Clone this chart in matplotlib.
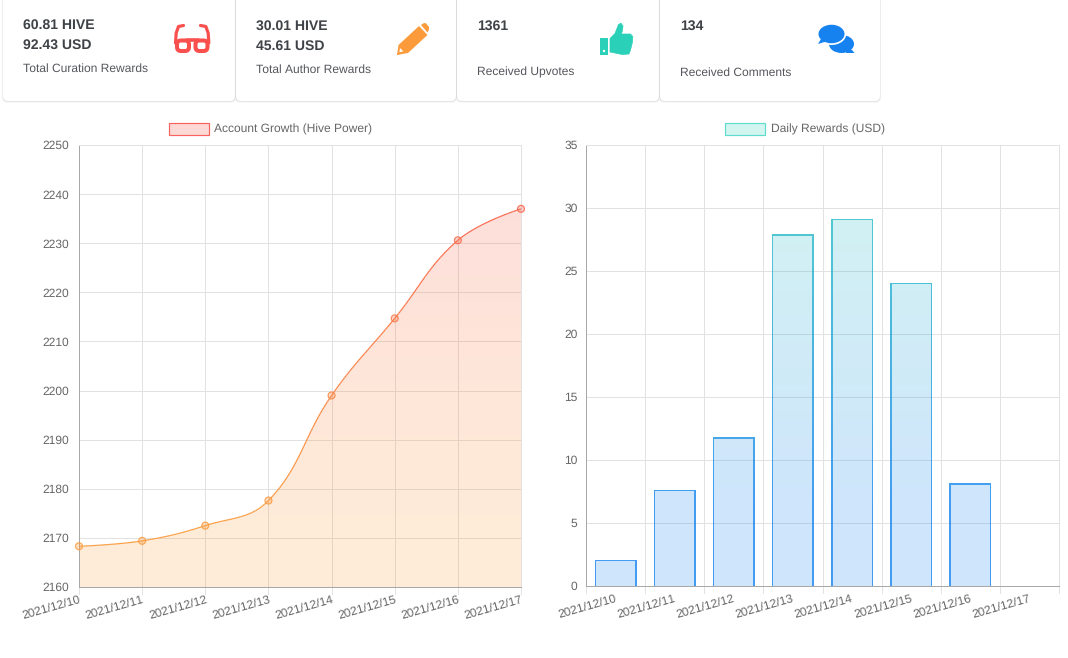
import numpy as np
import matplotlib
matplotlib.use('Agg')
import matplotlib.pyplot as plt
from matplotlib.path import Path
from matplotlib.patches import PathPatch, FancyBboxPatch, Rectangle, Circle, Ellipse, Polygon
from matplotlib.collections import LineCollection
from matplotlib.colors import LinearSegmentedColormap, to_rgb

dates = ['2021/12/10', '2021/12/11', '2021/12/12', '2021/12/13',
         '2021/12/14', '2021/12/15', '2021/12/16', '2021/12/17']
hive_power = [2168.3, 2169.4, 2172.5, 2177.6, 2199.0, 2214.7, 2230.6, 2237.0]
daily_rewards = [2.1, 7.65, 11.8, 27.9, 29.15, 24.05, 8.15, 0.0]
power_ticks = list(range(2160, 2251, 10))
reward_ticks = list(range(0, 36, 5))

plt.rcParams['font.family'] = ['Liberation Sans', 'DejaVu Sans']
plt.rcParams['text.hinting'] = 'no_hinting'
plt.rcParams['text.hinting_factor'] = 1
W, H = 1068, 658
fig = plt.figure(figsize=(W / 100, H / 100), dpi=100, facecolor='white')


def ax_px(x0, y0, x1, y1, **kw):
    return fig.add_axes([x0 / W, 1 - y1 / H, (x1 - x0) / W, (y1 - y0) / H], **kw)


bg = ax_px(0, 0, W, H)
bg.set_xlim(0, W)
bg.set_ylim(H, 0)
bg.axis('off')

TXT = '#3f4246'
SUB = '#55575c'
cards = [
    (3, 235, ['60.81 HIVE', '92.43 USD'], 'Total Curation Rewards', 23, (25, 45), 68.5),
    (236, 456, ['30.01 HIVE', '45.61 USD'], 'Total Author Rewards', 256, (26, 46), 69.5),
    (457, 659, ['1361'], 'Received Upvotes', 477, (26,), 72.5),
    (660, 880, ['134'], 'Received Comments', 680, (26,), 72.5),
]
for x0, x1, lines, sub, tx, ys, sy in cards:
    for k, a in ((2.0, 0.02), (1.2, 0.04), (0.6, 0.07)):
        bg.add_patch(FancyBboxPatch((x0 + 5 - k * 0.6, -20), x1 - x0 - 10 + 1.2 * k, 116 + k,
                                    boxstyle='round,pad=5', fc='black', ec='none', alpha=a))
    bg.add_patch(FancyBboxPatch((x0 + 5, -20), x1 - x0 - 10, 116,
                                boxstyle='round,pad=5', fc='white', ec='none'))
    for t, y in zip(lines, ys):
        bg.text(tx, y, t, fontsize=10.1, fontweight='bold', color=TXT, va='center', ha='left')
    bg.text(tx, sy, sub, fontsize=8.7, color=SUB, va='center', ha='left')

# glasses icon
RED = '#f9504e'
for cx in (183, 201.5):
    bg.add_patch(FancyBboxPatch((cx - 4.5, 42), 9, 7.5, boxstyle='round,pad=1.5,rounding_size=4',
                                fc='white', ec=RED, lw=2.9))
bg.plot([186, 199], [40.2, 40.2], color=RED, lw=2.6, solid_capstyle='butt')
bg.plot([175.5, 176.2, 178.5, 183.5], [43, 33, 26.5, 25.5], color=RED, lw=2.3, solid_capstyle='round')
bg.plot([208.8, 208.2, 205.8, 200.5], [43, 33, 26.5, 25.5], color=RED, lw=2.3, solid_capstyle='round')

# pencil icon
ORG = '#fb9b3c'
bg.add_patch(Polygon([(397, 55), (398.5, 45), (419, 26), (427.5, 35), (408, 53)], fc=ORG, ec='none'))
bg.add_patch(Polygon([(421, 25), (424, 23), (426, 23.3), (429, 27), (429, 29.5), (427.5, 32.5)],
                     fc=ORG, ec='none'))
bg.add_patch(Polygon([(400, 48), (403.5, 51.5), (399.4, 52.2)], fc='white', ec='none'))
bg.add_patch(Polygon([(397.4, 52.6), (399.4, 54.6), (397, 55)], fc=ORG, ec='none'))

# thumb icon
TEAL = '#2bd0b8'
bg.add_patch(Rectangle((600, 37.5), 7.5, 17, fc=TEAL, ec='none'))
bg.add_patch(Circle((604, 51), 1.2, fc='white', ec='none'))
bg.add_patch(Polygon([(610, 38.5), (615, 33.5), (618.5, 24.5), (621, 23.2), (623, 26), (622.5, 30), (621.5, 34),
                      (630.5, 34), (632.8, 36.5), (632.5, 42), (630.5, 50), (629, 54), (622, 54.5),
                      (615, 53), (610, 52)],
                     fc=TEAL, ec=TEAL, lw=0.5, joinstyle='round'))

# comments icon
BLUE = '#1582f0'
bg.add_patch(Ellipse((841.5, 44), 25, 18, fc=BLUE, ec='none'))
bg.add_patch(Polygon([(847, 49), (852, 50), (854.5, 53), (846, 53)], fc=BLUE, ec='none'))
bg.add_patch(Ellipse((831.5, 34), 29.5, 22, fc='white', ec='none'))
bg.add_patch(Ellipse((831.5, 34), 26, 18.5, fc=BLUE, ec='none'))
bg.add_patch(Polygon([(821, 39), (826, 41.5), (818, 44)], fc=BLUE, ec='none'))

# legends
bg.add_patch(Rectangle((168.5, 122.5), 40, 12, fc='#fdd9d6', ec='#f9635d', lw=0.85))
bg.text(214.5, 129.5, 'Account Growth (Hive Power)', fontsize=8.7, color='#666666', va='center')
bg.add_patch(Rectangle((724.5, 122.5), 40, 12, fc='#d3f5f0', ec='#5fdccb', lw=0.85))
bg.text(771, 129.5, 'Daily Rewards (USD)', fontsize=8.7, color='#666666', va='center')

GRID = '#e2e2e2'
GLW = 0.72


def style(ax, yticks, pad):
    ax.set_yticks(yticks)
    ax.tick_params(axis='y', length=0, pad=pad, labelsize=8.8, labelcolor='#666666')
    ax.tick_params(axis='x', length=0)
    ax.grid(True, color=GRID, lw=GLW, zorder=0)
    ax.set_axisbelow(True)
    for s in ('top', 'right'):
        ax.spines[s].set_color(GRID)
        ax.spines[s].set_linewidth(GLW)
    for s in ('left', 'bottom'):
        ax.spines[s].set_color('#a8a8a8')
        ax.spines[s].set_linewidth(GLW)
    ax.patch.set_alpha(0)


def xlabels(ax, ticks, anchors, dx):
    ax.set_xticks(ticks)
    ax.set_xticklabels([])
    trans = ax.get_xaxis_transform()
    for x in ticks:
        ax.plot([x, x], [0, -7 / 441], transform=trans, color=GRID, lw=GLW, clip_on=False)
    for x, d in zip(anchors, dates):
        ax.annotate(d, xy=(x, 0), xycoords=trans, xytext=(dx, -7), textcoords='offset pixels',
                    rotation=16, rotation_mode='anchor', ha='right', va='top',
                    fontsize=8.8, color='#666666')


def gradient(ax, c_top, c_bottom, clip, alpha, zorder):
    y0, y1 = ax.get_ylim()
    x0, x1 = ax.get_xlim()
    n = 442
    ypx = np.linspace(587, 145, n)
    t = np.clip((ypx - 115) / 400, 0, 1)[:, None]
    rgb = (1 - t) * np.array(to_rgb(c_top)) + t * np.array(to_rgb(c_bottom))
    rgba = np.dstack([rgb[:, None, :], np.full((n, 1), alpha)])
    rgba = np.repeat(rgba, 2, axis=1)
    im = ax.imshow(rgba, origin='lower', aspect='auto', extent=(x0, x1, y0, y1),
                   zorder=zorder, interpolation='nearest')
    im.set_clip_path(clip)
    ax.set_xlim(x0, x1)
    ax.set_ylim(y0, y1)
    return im


# left chart
ax1 = ax_px(79, 145, 521, 587)
ax1.set_xlim(0, 7)
ax1.set_ylim(2160, 2250)
style(ax1, power_ticks, 7.5)
xlabels(ax1, list(range(8)), list(range(8)), 0)

xv = np.arange(len(hive_power), dtype=float)
yv = np.array(hive_power)
# bezier control points following Chart.js tension 0.4, in pixel-scaled space
sx, sy_ = 442 / 7, 442 / 90
P = np.column_stack([xv * sx, yv * sy_])
cp_prev, cp_next = P.copy(), P.copy()
for i in range(1, len(P) - 1):
    d01 = np.hypot(*(P[i] - P[i - 1]))
    d12 = np.hypot(*(P[i + 1] - P[i]))
    fa = 0.4 * d01 / (d01 + d12)
    fb = 0.4 * d12 / (d01 + d12)
    cp_prev[i] = P[i] - fa * (P[i + 1] - P[i - 1])
    cp_next[i] = P[i] + fb * (P[i + 1] - P[i - 1])
verts = [P[0]]
codes = [Path.MOVETO]
for i in range(len(P) - 1):
    verts += [cp_next[i], cp_prev[i + 1], P[i + 1]]
    codes += [Path.CURVE4] * 3
verts = np.array(verts) / [sx, sy_]
area_v = np.vstack([verts, [xv[-1], 2160], [xv[0], 2160], verts[0]])
area_c = codes + [Path.LINETO, Path.LINETO, Path.CLOSEPOLY]
area = PathPatch(Path(area_v, area_c), transform=ax1.transData, fc='none', ec='none')
ax1.add_patch(area)
gradient(ax1, '#f9504e', '#fb9b3c', area, 0.2, 2)

# stroke the same bezier with a colour that follows the vertical gradient
tt = np.linspace(0, 1, 40)[:, None]
pts = []
for i in range(len(P) - 1):
    a, b, c, d = P[i], cp_next[i], cp_prev[i + 1], P[i + 1]
    pts.append((1 - tt) ** 3 * a + 3 * (1 - tt) ** 2 * tt * b + 3 * (1 - tt) * tt ** 2 * c + tt ** 3 * d)
flat = np.vstack(pts) / [sx, sy_]
segs = np.stack([flat[:-1], flat[1:]], axis=1)
lcmap = LinearSegmentedColormap.from_list('l', ['#fb9b3c', '#f9504e'])


def line_t(v):
    ypx = 587 - (np.asarray(v) - 2160) * 442 / 90
    return 1 - np.clip((ypx - 115) / 400, 0, 1)


lc = LineCollection(segs, cmap=lcmap, norm=plt.Normalize(0, 1), lw=0.85, zorder=3, clip_on=False)
lc.set_array(line_t(flat[:-1, 1]))
ax1.add_collection(lc)
mc = lcmap(line_t(yv))
ax1.scatter(xv, yv, s=25, facecolors=[(c[0], c[1], c[2], 0.3) for c in mc],
            edgecolors=[(c[0], c[1], c[2], 0.85) for c in mc],
            linewidths=0.85, zorder=4, clip_on=False)

# right chart
ax2 = ax_px(586, 145, 1059, 586)
ax2.set_xlim(0, 8)
ax2.set_ylim(0, 35)
style(ax2, reward_ticks, 6)
xlabels(ax2, list(range(9)), [i + 0.5 for i in range(8)], -1)

w = 0.71
fill_v, fill_c, ring_v, ring_c = [], [], [], []
ex, ey = 1.5 / (473 / 8), 1.5 / (441 / 35)
for i, val in enumerate(daily_rewards):
    if val <= 0:
        continue
    l, r = i + 0.5 - w / 2, i + 0.5 + w / 2
    fill_v += [(l, 0), (l, val), (r, val), (r, 0), (l, 0)]
    fill_c += [Path.MOVETO, Path.LINETO, Path.LINETO, Path.LINETO, Path.CLOSEPOLY]
    ring_v += [(l, 0), (l, val), (r, val), (r, 0), (r - ex, 0), (r - ex, val - ey),
               (l + ex, val - ey), (l + ex, 0), (l, 0)]
    ring_c += [Path.MOVETO] + [Path.LINETO] * 7 + [Path.CLOSEPOLY]
pf = PathPatch(Path(fill_v, fill_c), transform=ax2.transData, fc='none', ec='none')
pr = PathPatch(Path(ring_v, ring_c), transform=ax2.transData, fc='none', ec='none')
ax2.add_patch(pf)
ax2.add_patch(pr)
gradient(ax2, '#2bd0b8', '#1582f0', pf, 0.21, 2)
gradient(ax2, '#2bd0b8', '#1582f0', pr, 0.75, 3)

fig.savefig('out.png', dpi=100)
